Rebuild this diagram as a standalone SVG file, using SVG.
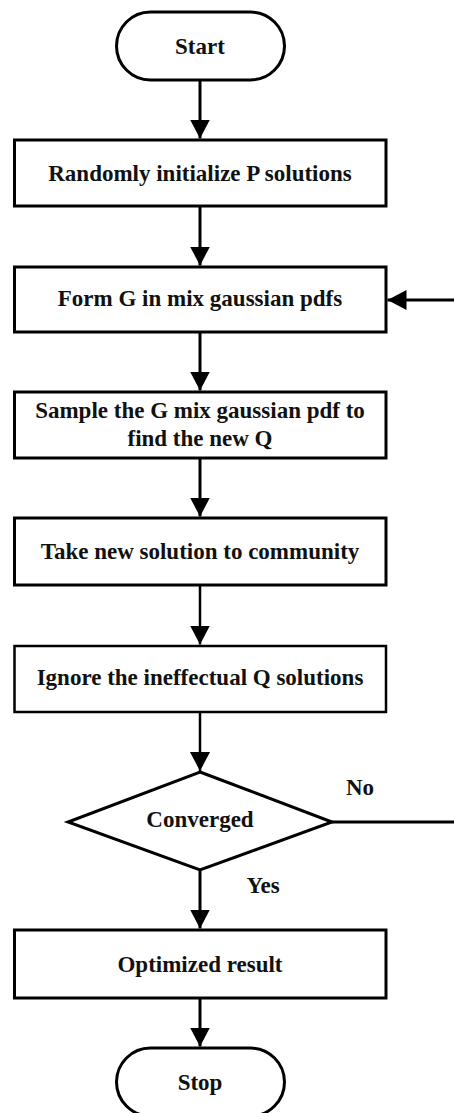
<svg xmlns="http://www.w3.org/2000/svg" width="454" height="1113" viewBox="0 0 454 1113">
  <style>
    .shape { fill: #ffffff; stroke: #000000; stroke-width: 3; }
    .label { font-family: "Liberation Serif", "Times New Roman", serif; font-weight: bold; font-size: 23px; fill: #111111; text-anchor: middle; }
    .conn { stroke: #000000; stroke-width: 3; fill: none; }
    .thin { stroke-width: 2.5; }
  </style>
  <defs>
    <marker id="arrow" markerUnits="userSpaceOnUse" markerWidth="19" markerHeight="20" viewBox="0 0 19 20" refX="19" refY="10" orient="auto">
      <path d="M0,0 L19,10 L0,20 z" fill="#000000"/>
    </marker>
  </defs>
  <rect width="454" height="1113" fill="#ffffff"/>

  <g id="connectors">
    <line class="conn" x1="200" y1="80" x2="200" y2="138.5" marker-end="url(#arrow)"/>
    <line class="conn" x1="200" y1="206" x2="200" y2="265.5" marker-end="url(#arrow)"/>
    <line class="conn" x1="200" y1="332" x2="200" y2="390.5" marker-end="url(#arrow)"/>
    <line class="conn" x1="200" y1="458" x2="200" y2="516.5" marker-end="url(#arrow)"/>
    <line class="conn thin" x1="200" y1="585" x2="200" y2="644.5" marker-end="url(#arrow)"/>
    <line class="conn thin" x1="200" y1="712" x2="200" y2="771" marker-end="url(#arrow)"/>
    <line class="conn" x1="200" y1="870" x2="200" y2="928.5" marker-end="url(#arrow)"/>
    <line class="conn" x1="200" y1="998" x2="200" y2="1046.5" marker-end="url(#arrow)"/>
    <line class="conn" x1="332" y1="822" x2="454" y2="822"/>
    <line class="conn" x1="454" y1="300" x2="387.5" y2="300" marker-end="url(#arrow)"/>
    <text class="label" x="360" y="795">No</text>
    <text class="label" x="263" y="893">Yes</text>
  </g>

  <g id="start">
    <rect class="shape" x="116.5" y="12" width="168" height="68" rx="34" ry="34"/>
    <text class="label" x="200" y="54">Start</text>
  </g>

  <g id="init">
    <rect class="shape" x="14.5" y="140" width="371.5" height="66"/>
    <text class="label" x="200" y="181">Randomly initialize P solutions</text>
  </g>

  <g id="form">
    <rect class="shape" x="14.5" y="267" width="371.5" height="65"/>
    <text class="label" x="200" y="306">Form G in mix gaussian pdfs</text>
  </g>

  <g id="sample">
    <rect class="shape" x="14.5" y="392" width="371.5" height="66"/>
    <text class="label" x="200" y="418">Sample the G mix gaussian pdf to</text>
    <text class="label" x="200" y="446">find the new Q</text>
  </g>

  <g id="take">
    <rect class="shape" x="14.5" y="518" width="371.5" height="67"/>
    <text class="label" x="200" y="559">Take new solution to community</text>
  </g>

  <g id="ignore">
    <rect class="shape thin" x="14.5" y="646" width="371.5" height="66"/>
    <text class="label" x="200" y="685">Ignore the ineffectual Q solutions</text>
  </g>

  <g id="converged">
    <polygon class="shape" points="200,772 332,822 200,870 68,822"/>
    <text class="label" x="200" y="827">Converged</text>
  </g>

  <g id="result">
    <rect class="shape" x="14.5" y="930" width="371.5" height="68"/>
    <text class="label" x="200" y="972">Optimized result</text>
  </g>

  <g id="stop">
    <rect class="shape" x="116.5" y="1048" width="168" height="68" rx="34" ry="34"/>
    <text class="label" x="200" y="1090">Stop</text>
  </g>
</svg>
